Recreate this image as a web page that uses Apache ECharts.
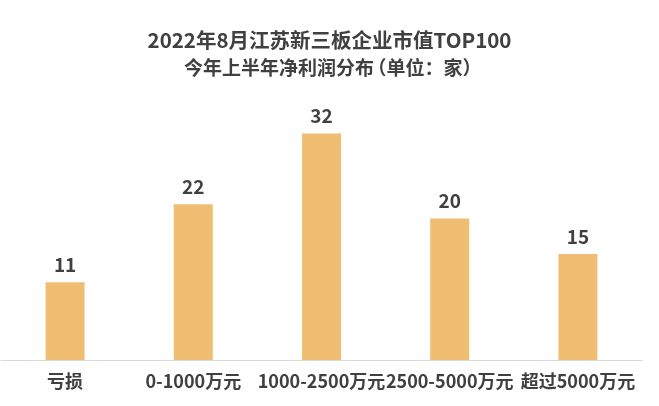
<!DOCTYPE html>
<html><head><meta charset="utf-8">
<script src="https://cdn.jsdelivr.net/npm/echarts@6/dist/echarts.min.js"></script>
<style>html,body{margin:0;padding:0;background:#fff}#c{width:659px;height:406px}</style>
</head><body><div id="c"></div>
<script>
const categories = ['亏损', '0-1000万元', '1000-2500万元', '2500-5000万元', '超过5000万元'];
const values = [11, 22, 32, 20, 15];
const titleLine1 = '2022年8月江苏新三板企业市值TOP100';
const titleLine2 = '今年上半年净利润分布';
const titleUnit = '单位：家';

const font = '"Noto Sans CJK SC", "Noto Sans", sans-serif';
const chart = echarts.init(document.getElementById('c'));
const base = { fontFamily: font, fontWeight: 'bold', color: '#404040', lineHeight: 27 };
chart.setOption({
  animation: false,
  title: {
    text: '{a|' + titleLine1 + '}\n{b|' + titleLine2 + '}{l|（}{b|' + titleUnit + '}{r|）}',
    left: 'center', top: 22,
    textStyle: {
      ...base, fontSize: 20.5,
      rich: {
        a: { ...base, fontSize: 20.5 },
        b: { ...base, fontSize: 19 },
        l: { ...base, fontSize: 19, padding: [0, 0, 0, -6.5] },
        r: { ...base, fontSize: 19, padding: [0, -6.5, 0, 0] }
      }
    }
  },
  grid: { left: 1, right: 17, top: 77, bottom: 46 },
  xAxis: {
    type: 'category', data: categories,
    axisLine: { lineStyle: { color: '#d9d9d9', width: 1 } },
    axisTick: { show: false },
    axisLabel: { fontFamily: font, fontSize: 18, fontWeight: 'bold', color: '#404040', margin: 12, interval: 0 }
  },
  yAxis: { type: 'value', min: 0, max: 40, show: false, splitLine: { show: false } },
  series: [{
    type: 'bar', data: values, barWidth: 39,
    itemStyle: { color: '#F0BE73' },
    label: { show: true, position: 'top', distance: 8, fontFamily: font, fontSize: 19, fontWeight: 'bold', color: '#404040' }
  }]
});
</script></body></html>
